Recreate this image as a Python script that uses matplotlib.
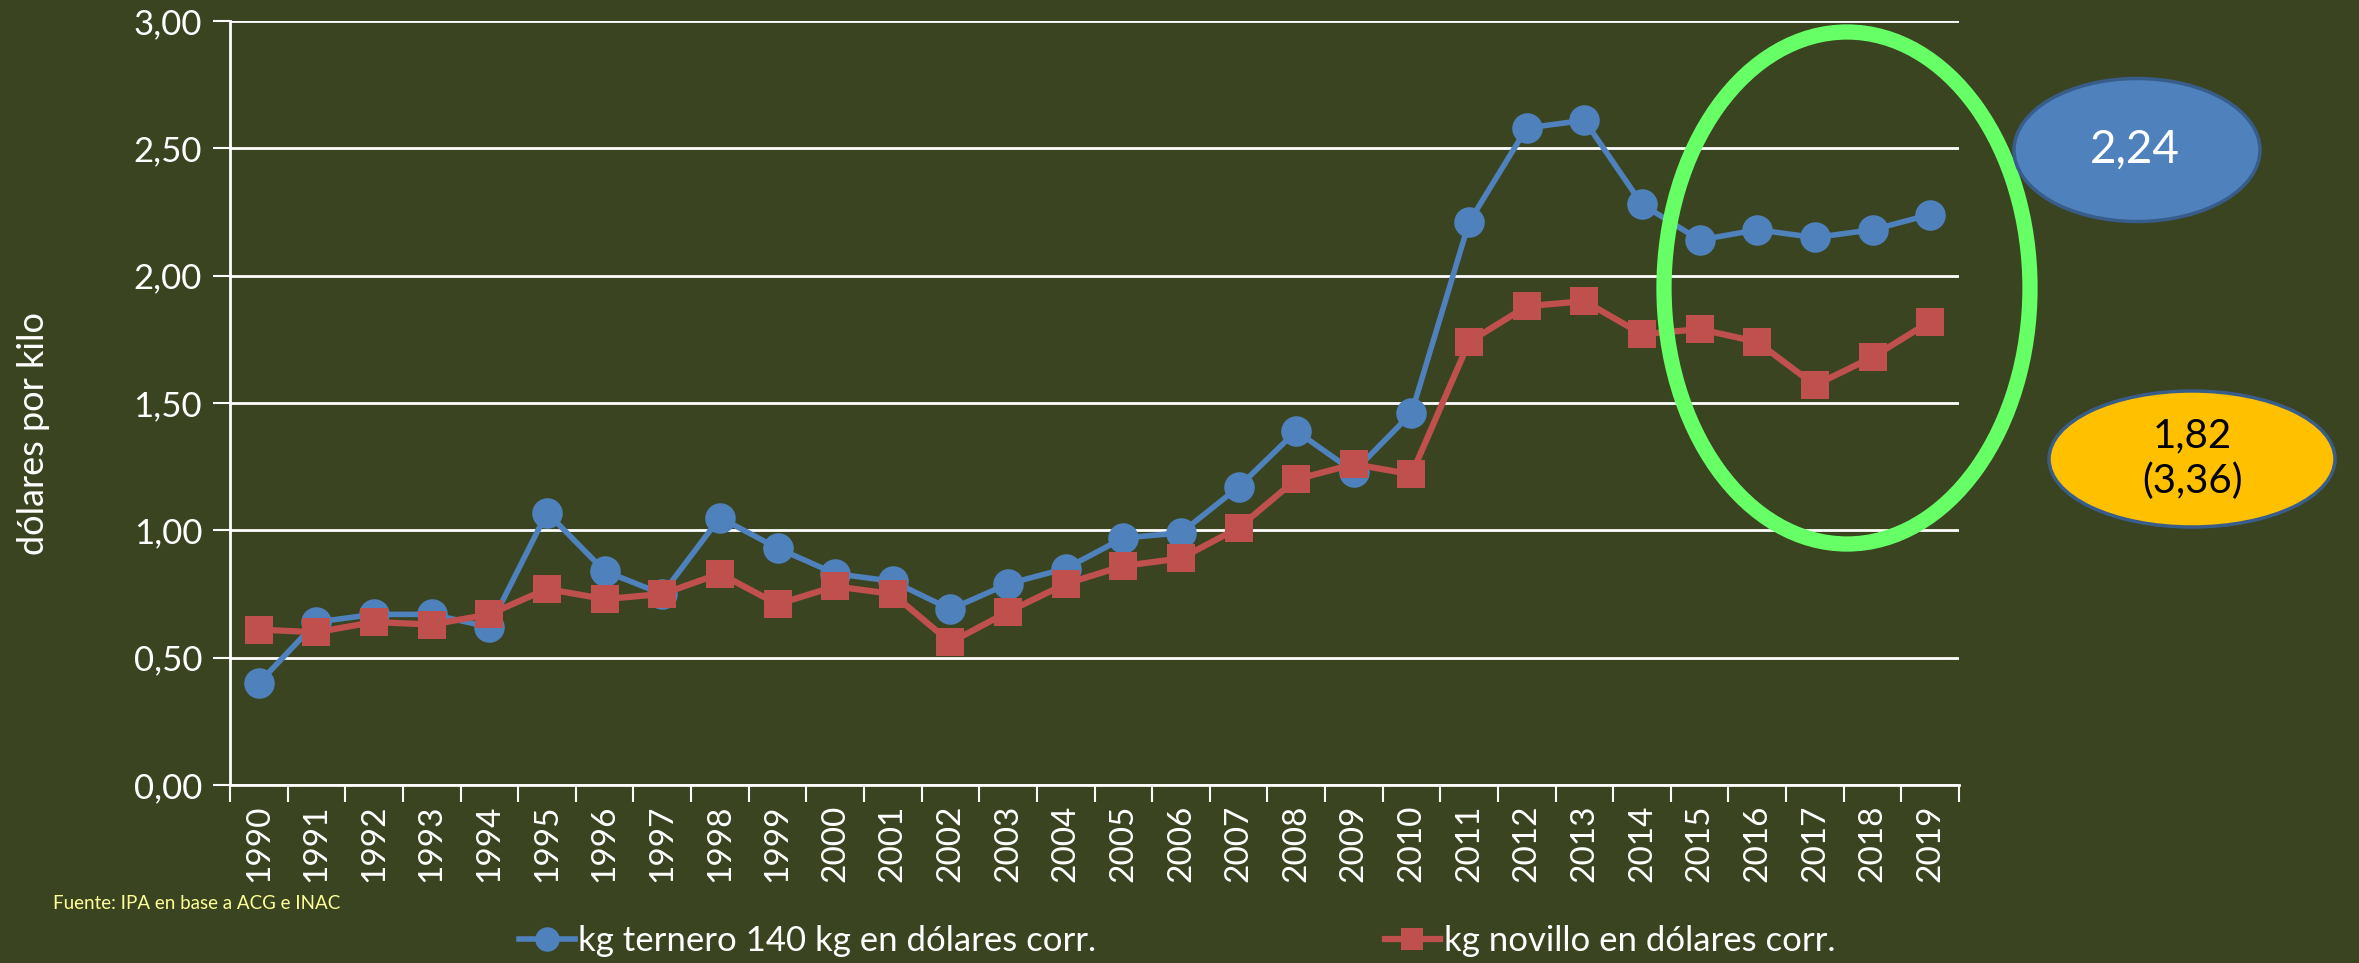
import matplotlib.pyplot as plt
from matplotlib.patches import Ellipse

# Data
years = [str(y) for y in range(1990, 2020)]
ternero = [0.40, 0.64, 0.67, 0.67, 0.62, 1.07, 0.84, 0.75, 1.05, 0.93,
           0.83, 0.80, 0.69, 0.79, 0.85, 0.97, 0.99, 1.17, 1.39, 1.23,
           1.46, 2.21, 2.58, 2.61, 2.28, 2.14, 2.18, 2.15, 2.18, 2.24]
novillo = [0.61, 0.60, 0.64, 0.63, 0.67, 0.77, 0.73, 0.75, 0.83, 0.71,
           0.78, 0.75, 0.56, 0.68, 0.79, 0.86, 0.89, 1.01, 1.20, 1.26,
           1.22, 1.74, 1.88, 1.90, 1.77, 1.79, 1.74, 1.57, 1.68, 1.82]
yticks = [0.0, 0.5, 1.0, 1.5, 2.0, 2.5, 3.0]
ytick_labels = ["0,00", "0,50", "1,00", "1,50", "2,00", "2,50", "3,00"]

bg = "#3A4420"
blue = "#4F81BD"
red = "#C0504D"

plt.rcParams['font.family'] = ['Lato', 'DejaVu Sans']

W, H = 2359, 963
fig = plt.figure(figsize=(W / 100, H / 100), dpi=100, facecolor=bg)
ax = fig.add_axes([230 / W, 1 - 785 / H, (1959 - 230) / W, (785 - 21) / H])
ax.set_facecolor(bg)

x = list(range(len(years)))
ax.plot(x, ternero, color=blue, lw=4, marker="o", markersize=22,
        markeredgewidth=0, label="kg ternero 140 kg en dólares corr.", zorder=3)
ax.plot(x, novillo, color=red, lw=4.5, marker="s", markersize=20,
        markeredgewidth=0, label="kg novillo en dólares corr.", zorder=4)

ax.set_xlim(-0.5, len(years) - 0.5)
ax.set_ylim(0, 3)
ax.set_yticks(yticks)
ax.set_yticklabels(ytick_labels)
ax.set_xticks(x)
ax.set_xticklabels(years, rotation=90)
ax.set_xticks([i - 0.5 for i in range(len(years) + 1)], minor=True)
ax.tick_params(axis="x", which="major", length=0, pad=14, labelsize=24, colors="white")
ax.tick_params(axis="x", which="minor", length=12, width=1.5, color="white")
ax.tick_params(axis="y", length=12, width=1.5, color="white", labelsize=25,
               labelcolor="white", pad=8)

ax.grid(axis="y", color="white", lw=2)
ax.set_axisbelow(True)
for side in ["top", "right"]:
    ax.spines[side].set_visible(False)
for side in ["left", "bottom"]:
    ax.spines[side].set_color("white")
    ax.spines[side].set_linewidth(2)

ax.set_ylabel("dólares por kilo", color="white", fontsize=26)
ax.yaxis.set_label_coords(-0.104, 0.46)

# legend at the bottom
leg = fig.legend(loc="lower center", bbox_to_anchor=(0.499, -0.026), ncol=2,
                 frameon=False, fontsize=25, labelcolor="white",
                 columnspacing=8.3, handlelength=1.6, handletextpad=0.1,
                 markerscale=0.8)

fig.text(53 / W, 1 - 903 / H, "Fuente: IPA en base a ACG e INAC", color="#FFFF99",
         fontsize=13.5, ha="left", va="center")

# highlight ellipse
fig.add_artist(Ellipse((1847 / W, 1 - 288 / H), 366 / W, 512 / H,
                       transform=fig.transFigure, fill=False,
                       edgecolor="#66FF66", lw=11, zorder=6))

# value callouts
fig.add_artist(Ellipse((2137 / W, 1 - 150 / H), 246 / W, 143 / H,
                       transform=fig.transFigure, facecolor=blue,
                       edgecolor="#385D8A", lw=2.5, zorder=6))
fig.text(2135 / W, 1 - 150 / H, "2,24", color="white", fontsize=33,
         ha="center", va="center", zorder=7)

fig.add_artist(Ellipse((2192 / W, 1 - 459 / H), 286 / W, 136 / H,
                       transform=fig.transFigure, facecolor="#FFC000",
                       edgecolor="#385D8A", lw=2.5, zorder=6))
fig.text(2192 / W, 1 - 459 / H, "1,82\n(3,36)", color="black", fontsize=29,
         ha="center", va="center", linespacing=1.25, zorder=7)

fig.savefig("out.png", dpi=100, facecolor=bg)
